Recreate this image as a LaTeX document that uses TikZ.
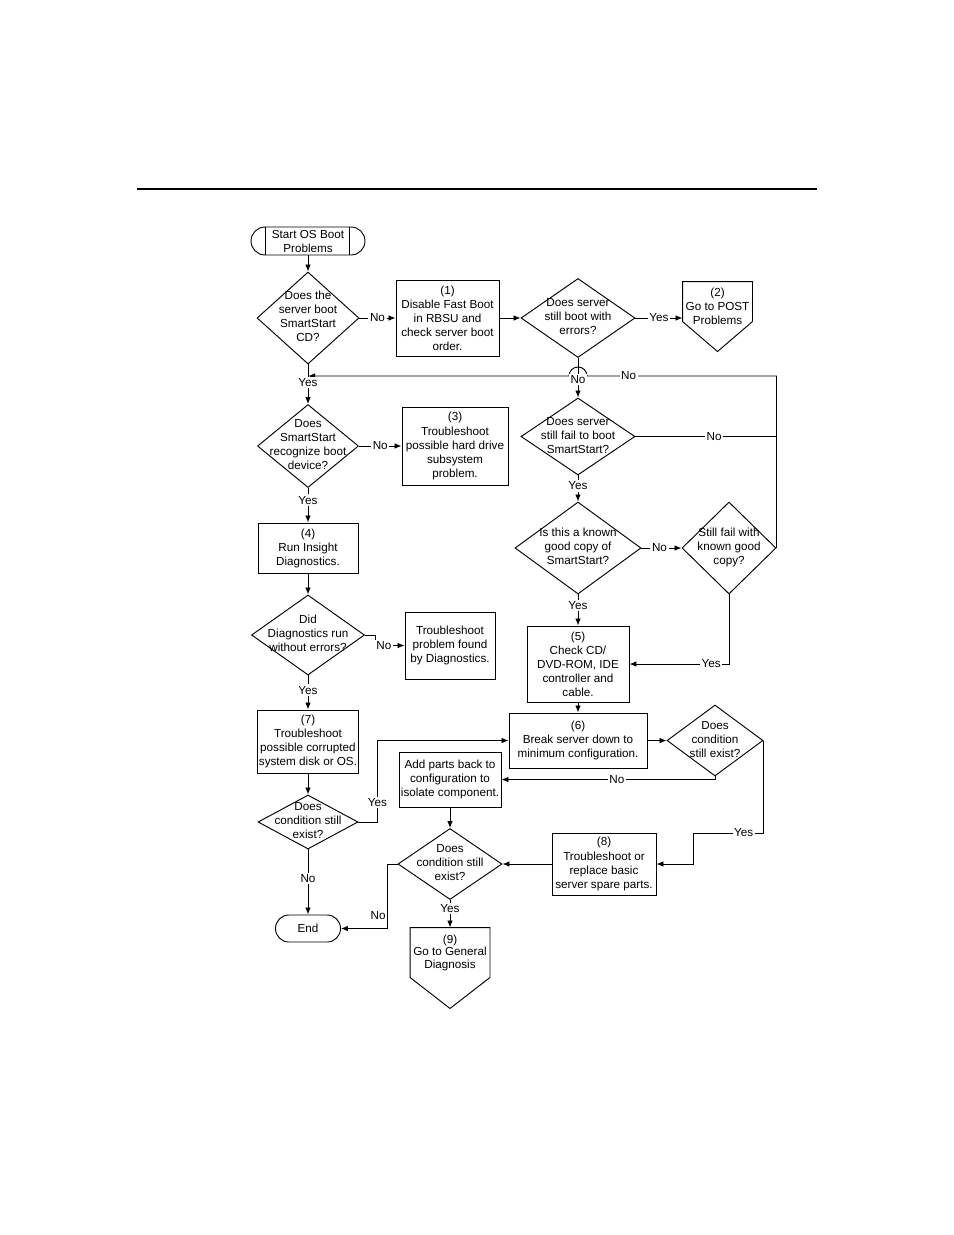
\documentclass[tikz,border=0pt]{standalone}
\usepackage{fontspec}
\setmainfont{Liberation Sans}
\usetikzlibrary{arrows.meta, positioning, calc, shapes.geometric}

\newdimen\px \px=0.6415pt
\newcommand{\dtext}[1]{\makebox[0pt]{\begin{tabular}{@{}c@{}}#1\end{tabular}}}

\begin{document}
\begin{tikzpicture}[x=\px, y=-\px, font=\fontsize{7.5}{9}\selectfont,
  line width=0.6pt, >={Latex[length=4.5pt,width=3.6pt]},
  proc/.style={draw, rectangle, align=center, inner sep=1pt},
  decision/.style={draw, diamond, aspect=1, inner sep=0pt},
  term/.style={draw, rectangle, align=center, inner sep=1pt},
  offpage/.style={rectangle, align=center, inner sep=1pt},
  yn/.style={fill=white, inner sep=1pt}]
  \useasboundingbox (0,0) rectangle (954,1235);
  % Page rule
  \draw[line width=1.3pt] (137,189) -- (817,189);

  % Left column
  \node[term, rounded corners=9pt, minimum width=114\px, minimum height=28\px] (start) at (308,241) {Start OS Boot\\Problems};
  \draw ($(start.north west)+(15,0)$) -- ($(start.south west)+(15,0)$);
  \draw ($(start.north east)+(-16,0)$) -- ($(start.south east)+(-16,0)$);
  \node[decision, minimum width=102\px, minimum height=92\px] (d1) at (308,318) {\dtext{Does the\\server boot\\SmartStart\\CD?}};
  \node[decision, minimum width=101\px, minimum height=83\px] (d3) at (308,446) {\dtext{Does\\SmartStart\\recognize boot\\device?}};
  \node[proc, minimum width=100\px, minimum height=50\px] (b4) at (308,548) {(4)\\Run Insight\\Diagnostics.};
  \node[decision, minimum width=113\px, minimum height=80\px] (d5) at (308,635) {\dtext{Did\\Diagnostics run\\without errors?}};
  \node[proc, minimum width=100\px, minimum height=63\px] (b7) at (308,741.5) {(7)\\Troubleshoot\\possible corrupted\\system disk or OS.};
  \node[decision, minimum width=100\px, minimum height=54\px] (d7) at (308,822) {\dtext{Does\\condition still\\exist?}};
  \node[term, rounded corners=8.6pt, minimum width=65\px, minimum height=27\px] (end) at (308,928.5) {End};

  % Middle column
  \node[proc, minimum width=103\px, minimum height=76\px] (b1) at (447.5,318) {(1)\\Disable Fast Boot\\in RBSU and\\check server boot\\order.};
  \node[proc, minimum width=106\px, minimum height=78\px] (b3) at (455,446) {(3)\\Troubleshoot\\possible hard drive\\subsystem\\problem.};
  \node[proc, minimum width=90\px, minimum height=67\px] (diag) at (450,645.5) {Troubleshoot\\problem found\\by Diagnostics.};
  \node[proc, minimum width=102\px, minimum height=55\px] (add) at (450,779.5) {Add parts back to\\configuration to\\isolate component.};
  \node[decision, minimum width=104\px, minimum height=71\px] (d9) at (450,864) {\dtext{Does\\condition still\\exist?}};
  \node[offpage, font=\fontsize{7.5}{8}\selectfont, minimum width=79\px, minimum height=49\px] (p9) at (450,952.5) {(9)\\Go to General\\Diagnosis};
  \draw (p9.north west) -- (p9.north east) -- (p9.south east) -- ($(p9.south)+(0,31)$) -- (p9.south west) -- cycle;

  % Right column
  \node[decision, minimum width=114\px, minimum height=79\px] (d2) at (578,318) {\dtext{Does server\\still boot with\\errors?}};
  \node[offpage, minimum width=69\px, minimum height=48\px] (p2) at (717.5,306) {(2)\\Go to POST\\Problems};
  \draw (p2.north west) -- (p2.north east) -- ($(p2.north east)+(0,40)$) -- ($(p2.north)+(0,70)$) -- ($(p2.north west)+(0,40)$) -- cycle;
  \node[decision, minimum width=114\px, minimum height=77\px] (d4) at (578,436.5) {\dtext{Does server\\still fail to boot\\SmartStart?}};
  \node[decision, minimum width=126\px, minimum height=92\px] (kn) at (578,548) {\dtext{Is this a known\\good copy of\\SmartStart?}};
  \node[decision, minimum width=94\px, minimum height=92\px] (sf) at (729,548) {\dtext{Still fail with\\known good\\copy?}};
  \node[proc, minimum width=102\px, minimum height=76\px] (b5) at (578,664) {(5)\\Check CD/\\DVD-ROM, IDE\\controller and\\cable.};
  \node[proc, minimum width=138\px, minimum height=55\px] (b6) at (578,740.5) {(6)\\Break server down to\\minimum configuration.};
  \node[decision, minimum width=96\px, minimum height=71\px] (d8) at (715,740.5) {\dtext{Does\\condition\\still exist?}};
  \node[proc, minimum width=104\px, minimum height=62\px] (b8) at (604,864) {(8)\\Troubleshoot or\\replace basic\\server spare parts.};

  % Connectors, top part
  \draw[->] (start.south) -- (d1.north);
  \draw[->] (d1.east) -- node[yn]{No} (b1.west);
  \draw[->] (b1.east) -- (d2.west);
  \draw[->] (d2.east) -- node[yn]{Yes} (d2.east -| p2.west);
  % Loop back with line hop
  \coordinate (loop) at (776,376);
  \coordinate (hopr) at (587,376);
  \draw[->] (sf.east) |- node[yn, pos=0.89]{No} (hopr) arc[start angle=0, end angle=180, radius=5.77pt] -- (d1.south |- loop);
  \draw[->] (d2.south) -- node[yn, pos=0.55]{No} (d4.north);
  \draw (d4.east) -- node[yn, pos=0.56]{No} (d4.east -| loop);
  \draw[->] (d1.south) -- node[yn, pos=0.46]{Yes} (d3.north);
  \draw[->] (d3.east) -- node[yn]{No} (b3.west);
  \draw[->] (d3.south) -- node[yn, pos=0.35]{Yes} (b4.north);
  \draw[->] (b4.south) -- (d5.north);
  \draw[->] (d5.east) -- ++(10,0) |- node[yn, pos=0.65]{No} (diag.west);
  \draw[->] (d5.south) -- node[yn, pos=0.43]{Yes} (b7.north);
  \draw[->] (b7.south) -- (d7.north);
  \draw[->] (d7.south) -- node[yn, pos=0.45]{No} (end.north);
  \draw[->] (d7.east) -- ++(19,0) |- node[yn, pos=0.12]{Yes} (b6.west);
  % Connectors, right part
  \draw[->] (d4.south) -- node[yn, pos=0.4]{Yes} (kn.north);
  \draw[->] (kn.east) -- node[yn, pos=0.45]{No} (sf.west);
  \draw[->] (kn.south) -- node[yn, pos=0.35]{Yes} (b5.north);
  \draw[->] (sf.south) |- node[yn, pos=0.59]{Yes} (b5.east);
  \draw[->] (b5.south) -- (b6.north);
  \draw[->] (b6.east) -- (d8.west);
  \draw[->] (d8.south) |- node[yn, pos=0.73]{No} (add.east);
  \coordinate (d8yes) at (693,833);
  \draw[->] (d8.east) |- node[yn, pos=0.64]{Yes} (d8yes) |- (b8.east);
  \draw[->] (b8.west) -- (d9.east);
  \draw[->] (add.south) -- (d9.north);
  \draw[->] (d9.south) -- node[yn, pos=0.3]{Yes} (p9.north);
  \draw[->] (d9.west) -- ++(-10,0) |- node[left, inner sep=1pt, pos=0.4]{No} (end.east);
\end{tikzpicture}
\end{document}
